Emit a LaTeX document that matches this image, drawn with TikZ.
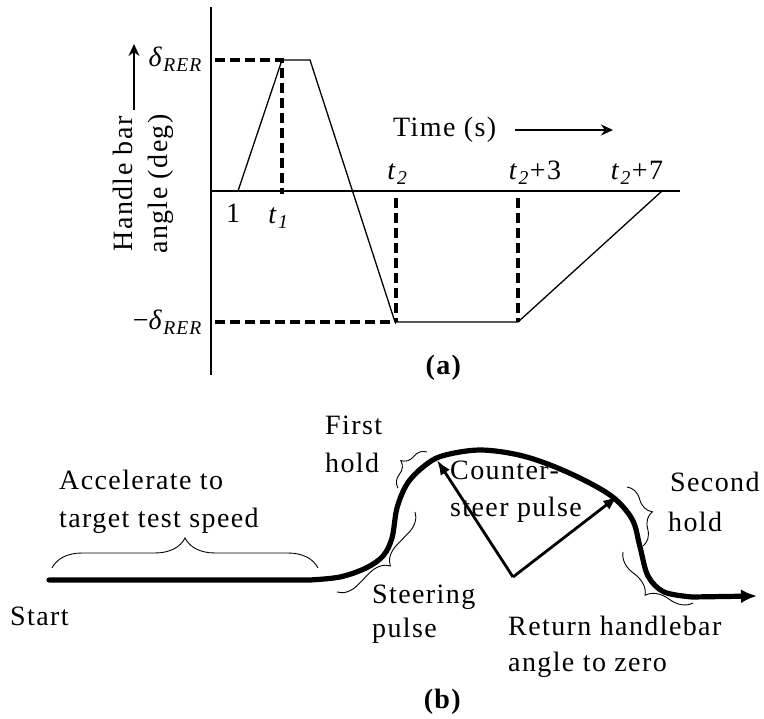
\documentclass[tikz,border=0pt]{standalone}
\usepackage{fontspec}
\setmainfont{Liberation Serif}[LetterSpace=5]
\usetikzlibrary{arrows.meta,decorations.pathreplacing}
\begin{document}
\begin{tikzpicture}[x=1pt,y=-1pt,
  lbl/.style={inner sep=0pt,font=\fontsize{28}{32}\selectfont},
  thin line/.style={line width=1.3pt},
  dashline/.style={line width=3.8pt,dash pattern=on 10pt off 5pt},
  road/.style={line width=5.2pt,line cap=round},
  pulsearrow/.style={line width=2.8pt,-{Latex[length=15pt,width=11pt]}},
  bigarrow/.style={line width=2.6pt,-{Stealth[length=12pt,width=11pt]}},
  curly/.style={decorate,decoration={brace,amplitude=#1},line width=0.9pt},
  curly/.default=10pt]
\useasboundingbox (0,0) rectangle (764,719);
% ---------- (a) ----------
\coordinate (yb) at (211,375);
\coordinate (yt) at (211,7);
\coordinate (o) at (211,191);
\coordinate (xe) at (680,191);
\draw[thin line] (yt) -- (yb);
\draw[thin line] (o) -- (xe);
\coordinate (p1) at (238,191);
\coordinate (p2) at (282,60);
\coordinate (p3) at (310,60);
\coordinate (p4) at (395,322);
\coordinate (p5) at (518,322);
\coordinate (p6) at (662,191);
\draw[thin line] (p1) -- (p2) -- (p3) -- (p4) -- (p5) -- (p6);
\coordinate (dh1) at (215,60);
\coordinate (dh2) at (215,322);
\coordinate (t1b) at (282,194);
\coordinate (t2t) at (396,198);
\coordinate (t2b) at (396,322);
\coordinate (t3t) at (518,198);
\draw[dashline] (dh1) -- (p2) -- (t1b);
\draw[dashline] (dh2) -- (t2b);
\draw[dashline] (t2t) -- (t2b);
\draw[dashline] (t3t) -- (p5);
\node[lbl,anchor=base east] (dpos) at (203,67) {\textit{δ}\textsubscript{\textit{RER}}};
\node[lbl,anchor=base east] (dneg) at (203,330) {−\textit{δ}\textsubscript{\textit{RER}}};
\node[lbl,anchor=base] (one) at (233,223) {1};
\node[lbl,anchor=base] (lt1) at (279,224) {\textit{t}\textsubscript{\textit{1}}};
\node[lbl,anchor=base] (lt2) at (398,180) {\textit{t}\textsubscript{\textit{2}}};
\node[lbl,anchor=base] (lt3) at (535,180) {\textit{t}\textsubscript{\textit{2}}+3};
\node[lbl,anchor=base] (lt7) at (637,180) {\textit{t}\textsubscript{\textit{2}}+7};
\node[lbl,anchor=base west] (time) at (393,137) {Time (s)};
\coordinate (ta1) at (515,130);
\coordinate (ta2) at (613,130);
\draw[bigarrow] (ta1) -- (ta2);
\node[lbl,rotate=90,anchor=base] (ylab1) at (132,184) {Handle bar};
\node[lbl,rotate=90,anchor=base] (ylab2) at (167,184) {angle (deg)};
\coordinate (ya1) at (134,110);
\coordinate (ya2) at (134,44);
\draw[bigarrow] (ya1) -- (ya2);
\node[lbl,anchor=base] (capa) at (444,375) {\textbf{(a)}};
% ---------- (b) ----------
\coordinate (rs) at (49,580);
\coordinate (re) at (757,596);
\draw[road,-{Latex[length=16pt,width=14pt]}] (rs) -- (310,580)
  plot[smooth,tension=0.55] coordinates {(310,580) (340,577) (366,568) (383,556) (392,538) (397,508) (407,484) (423,467) (442,456) (480,450) (523,456) (567,472) (610,495) (632,519) (640,547) (648,576) (664,592) (692,597)} -- (re);
\coordinate (v) at (513,577);
\coordinate (h1) at (437,460);
\coordinate (h2) at (618,496);
\draw[pulsearrow] (v) -- (h1);
\draw[pulsearrow] (v) -- (h2);
% braces
\draw[curly=30pt] (52,568) -- (318,568);
\draw[curly=15pt] (398,488) -- (427,452);
\draw[curly=20pt] (415,512) -- (337,592);
\draw[curly=18pt] (627,487) -- (643,546);
\draw[curly=22pt] (693,603) -- (623,552);
% labels
\node[lbl,anchor=base west] (start) at (10,625) {Start};
\node[lbl,anchor=base west] (acc1) at (59,490) {Accelerate to};
\node[lbl,anchor=base west] (acc2) at (59,528) {target test speed};
\node[lbl,anchor=base west] (fh1) at (325,435) {First};
\node[lbl,anchor=base west] (fh2) at (325,473) {hold};
\node[lbl,anchor=base west] (sp1) at (372,603) {Steering};
\node[lbl,anchor=base west] (sp2) at (372,637) {pulse};
\node[lbl,anchor=base west] (cs1) at (450,480) {Counter-};
\node[lbl,anchor=base west] (cs2) at (450,517) {steer pulse};
\node[lbl,anchor=base west] (sh1) at (670,492) {Second};
\node[lbl,anchor=base west] (sh2) at (668,532) {hold};
\node[lbl,anchor=base west] (rh1) at (508,635) {Return handlebar};
\node[lbl,anchor=base west] (rh2) at (508,671) {angle to zero};
\node[lbl,anchor=base] (capb) at (443,708) {\textbf{(b)}};
\end{tikzpicture}
\end{document}
